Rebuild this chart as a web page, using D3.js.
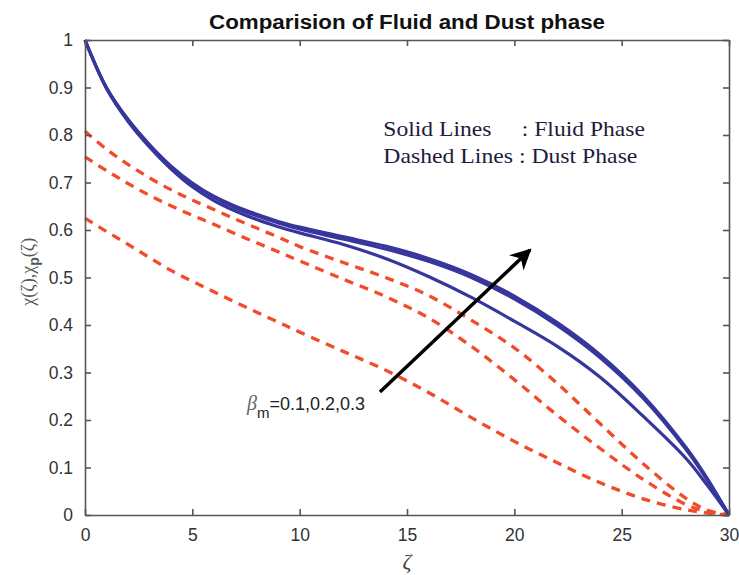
<!DOCTYPE html>
<html lang="en">
<head>
<meta charset="UTF-8">
<title>Comparision of Fluid and Dust phase</title>
<script src="https://cdn.jsdelivr.net/npm/d3@7"></script>
<style>
    body { margin: 0; background: #fff; }
    svg { display: block; }
    .tick text { font-family: "Liberation Sans", Arial, sans-serif; font-size: 17.5px; fill: #333; }
</style>
</head>
<body>
<svg width="739" height="575"></svg>
<script>
    // values
    const zeta = [0, 1, 2, 3, 4, 5, 6, 7, 8, 9, 10, 12, 14, 16, 18, 20, 22, 24, 26, 28, 29, 30];

    // solid lines : fluid phase
    const fluid1 = [1.000, 0.900, 0.833, 0.780, 0.735, 0.699, 0.671, 0.650, 0.633, 0.618, 0.606, 0.586, 0.566, 0.540, 0.506, 0.461, 0.405, 0.337, 0.251, 0.142, 0.076, 0.000];
    const fluid2 = [1.000, 0.899, 0.832, 0.779, 0.733, 0.697, 0.669, 0.647, 0.630, 0.615, 0.602, 0.581, 0.560, 0.534, 0.500, 0.455, 0.399, 0.331, 0.246, 0.138, 0.073, 0.000];
    const fluid3 = [1.000, 0.898, 0.829, 0.775, 0.729, 0.691, 0.662, 0.640, 0.622, 0.607, 0.594, 0.570, 0.540, 0.502, 0.458, 0.408, 0.355, 0.290, 0.208, 0.119, 0.062, 0.000];

    // dashed lines : dust phase
    const dust1 = [0.808, 0.770, 0.738, 0.710, 0.685, 0.663, 0.643, 0.623, 0.604, 0.585, 0.565, 0.532, 0.500, 0.462, 0.410, 0.352, 0.277, 0.192, 0.108, 0.035, 0.010, 0.000];
    const dust2 = [0.754, 0.725, 0.698, 0.673, 0.651, 0.631, 0.612, 0.592, 0.573, 0.554, 0.535, 0.497, 0.460, 0.415, 0.355, 0.285, 0.210, 0.140, 0.075, 0.022, 0.007, 0.000];
    const dust3 = [0.625, 0.597, 0.570, 0.542, 0.515, 0.492, 0.470, 0.448, 0.427, 0.406, 0.385, 0.345, 0.305, 0.258, 0.205, 0.155, 0.110, 0.068, 0.034, 0.011, 0.004, 0.000];

    const xTicks = [0, 5, 10, 15, 20, 25, 30];
    const yTicks = [0, 0.1, 0.2, 0.3, 0.4, 0.5, 0.6, 0.7, 0.8, 0.9, 1];

    const svg = d3.select("svg");
    const plotL = 85, plotR = 729, plotT = 40, plotB = 515;

    const x = d3.scaleLinear().domain([0, 30]).range([plotL, plotR]);
    const y = d3.scaleLinear().domain([0, 1]).range([plotB, plotT]);

    // title
    svg.append("text")
        .attr("x", (plotL + plotR) / 2).attr("y", 29)
        .attr("text-anchor", "middle")
        .attr("textLength", 396).attr("lengthAdjust", "spacingAndGlyphs")
        .style("font-family", "'Liberation Sans', Arial, sans-serif")
        .style("font-weight", "bold").style("font-size", "20px").style("fill", "#111")
        .text("Comparision of Fluid and Dust phase");

    // curves
    const line = d3.line()
        .x(function (d) { return x(d[0]); })
        .y(function (d) { return y(d[1]); })
        .curve(d3.curveCatmullRom.alpha(0.5));

    const pts = function (vals) { return zeta.map(function (z, i) { return [z, vals[i]]; }); };

    [dust1, dust2, dust3].forEach(function (s) {
        svg.append("path").attr("d", line(pts(s)))
            .attr("fill", "none").attr("stroke", "#f24a2a")
            .attr("stroke-width", 3.3).attr("stroke-dasharray", "9,7");
    });
    [fluid3, fluid2, fluid1].forEach(function (s) {
        svg.append("path").attr("d", line(pts(s)))
            .attr("fill", "none").attr("stroke", "#36369c")
            .attr("stroke-width", 3.2);
    });

    // axes box (ticks inside on all four sides)
    const axisColor = "#555";
    svg.append("g").attr("transform", "translate(0," + plotB + ")")
        .call(d3.axisBottom(x).tickValues(xTicks).tickSizeInner(-6).tickSizeOuter(0).tickPadding(14));
    svg.append("g").attr("transform", "translate(0," + plotT + ")")
        .call(d3.axisTop(x).tickValues(xTicks).tickSizeInner(-6).tickSizeOuter(0).tickFormat(""));
    svg.append("g").attr("transform", "translate(" + plotL + ",0)")
        .call(d3.axisLeft(y).tickValues(yTicks).tickSizeInner(-6).tickSizeOuter(0).tickPadding(12)
            .tickFormat(d3.format("~g")));
    svg.append("g").attr("transform", "translate(" + plotR + ",0)")
        .call(d3.axisRight(y).tickValues(yTicks).tickSizeInner(-6).tickSizeOuter(0).tickFormat(""));
    svg.selectAll(".domain, .tick line").attr("stroke", axisColor).attr("stroke-width", 1.6);

    // axis labels
    svg.append("text")
        .attr("x", (plotL + plotR) / 2).attr("y", 569)
        .attr("text-anchor", "middle")
        .style("font-family", "'Liberation Serif', 'Times New Roman', serif")
        .style("font-style", "italic").style("font-size", "22px").style("fill", "#444")
        .text("ζ");

    const yl = svg.append("text")
        .attr("transform", "translate(34," + y(0.512) + ") rotate(-90)")
        .attr("text-anchor", "middle")
        .style("font-family", "'Liberation Serif', 'Times New Roman', serif")
        .style("font-size", "18px").style("fill", "#555");
    yl.append("tspan").text("χ(ζ),χ");
    yl.append("tspan").attr("dy", 5).style("font-family", "'Liberation Sans', Arial, sans-serif")
        .style("font-size", "14px").style("font-weight", "bold").text("p");
    yl.append("tspan").attr("dy", -5).text("(ζ)");

    // legend text
    const legendFont = "'Liberation Serif', 'Times New Roman', serif";
    const legendStyle = function (t) {
        return t.attr("lengthAdjust", "spacingAndGlyphs")
            .style("font-family", legendFont).style("font-size", "21px").style("fill", "#1c1c3c");
    };
    legendStyle(svg.append("text").attr("x", x(13.9)).attr("y", y(0.797)).attr("textLength", 108))
        .text("Solid Lines");
    legendStyle(svg.append("text").attr("x", x(20.35)).attr("y", y(0.797)).attr("textLength", 123))
        .text(": Fluid Phase");
    legendStyle(svg.append("text").attr("x", x(13.9)).attr("y", y(0.741)).attr("textLength", 254))
        .text("Dashed Lines : Dust Phase");

    // arrow annotation
    svg.append("defs").append("marker")
        .attr("id", "head").attr("viewBox", "0 0 10 10")
        .attr("refX", 9).attr("refY", 5)
        .attr("markerWidth", 7).attr("markerHeight", 6)
        .attr("orient", "auto")
        .append("path").attr("d", "M0,0 L10,5 L0,10 L3,5 Z").attr("fill", "#000");

    svg.append("line")
        .attr("x1", x(13.74)).attr("y1", y(0.259))
        .attr("x2", x(20.73)).attr("y2", y(0.558))
        .attr("stroke", "#000").attr("stroke-width", 3.5)
        .attr("marker-end", "url(#head)");

    const bt = svg.append("text").attr("x", x(7.55)).attr("y", y(0.222));
    bt.append("tspan").style("font-family", legendFont).style("font-style", "italic")
        .style("font-size", "20px").style("fill", "#666").text("β");
    bt.append("tspan").attr("dy", 8).style("font-family", "'Liberation Sans', Arial, sans-serif")
        .style("font-size", "15px").style("fill", "#222").text("m");
    bt.append("tspan").attr("dy", -8).style("font-family", "'Liberation Sans', Arial, sans-serif")
        .style("font-size", "18px").style("fill", "#222").text("=0.1,0.2,0.3");
</script>
</body>
</html>
